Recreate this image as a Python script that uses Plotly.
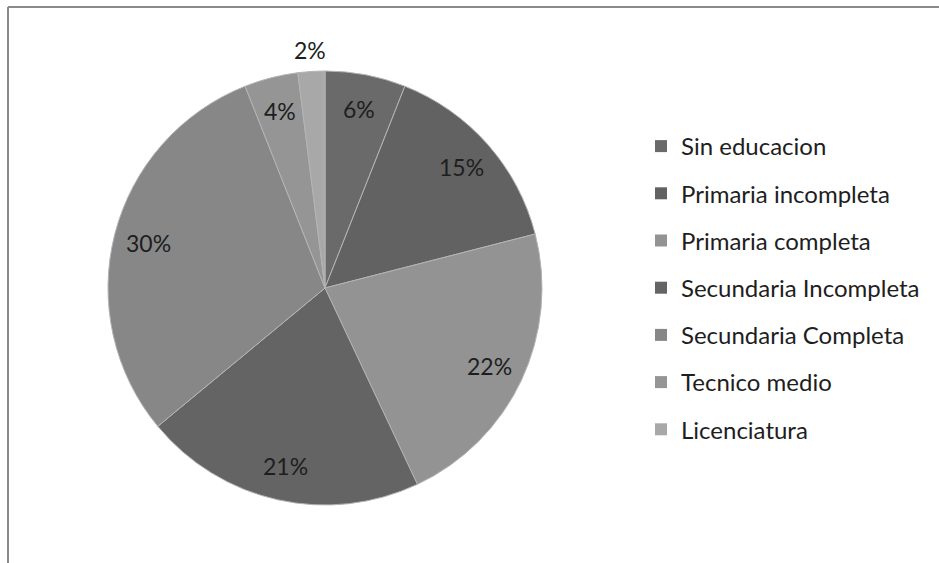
import math
import plotly.graph_objects as go

# Education level distribution
categories = ["Sin educacion", "Primaria incompleta", "Primaria completa",
              "Secundaria Incompleta", "Secundaria Completa", "Tecnico medio",
              "Licenciatura"]
values = [6, 15, 22, 21, 30, 4, 2]
colors = ["#6a6a6a", "#626262", "#939393", "#646464", "#878787", "#959595", "#a8a8a8"]

W, H = 939, 563
CX, CY, R = 325, 288, 217          # pie centre and radius in pixels
FONT = "Lato, 'Open Sans', sans-serif"

fig = go.Figure()

fig.add_trace(go.Pie(
    labels=categories,
    values=values,
    sort=False,
    direction="clockwise",
    rotation=0,
    marker=dict(colors=colors, line=dict(color="#b4b4b4", width=1)),
    textinfo="none",
    hoverinfo="label+percent",
    showlegend=False,
    domain=dict(x=[(CX - R) / W, (CX + R) / W],
                y=[1 - (CY + R) / H, 1 - (CY - R) / H]),
))

# Percentage labels placed at each slice's mid-angle
total = sum(values)
cum = 0
annotations = []
for v in values:
    mid = (cum + v / 2) / total * 2 * math.pi
    cum += v
    frac = 0.84 if v / total >= 0.03 else 1.1
    px = CX + frac * R * math.sin(mid)
    py = CY - frac * R * math.cos(mid)
    annotations.append(dict(
        x=px / W, y=1 - py / H, xref="paper", yref="paper",
        text=f"{round(v / total * 100)}%", showarrow=False,
        font=dict(family=FONT, size=23, color="#1e1e1e"),
        xanchor="center", yanchor="middle",
    ))

# Legend entries, one group each so they can be spaced apart
for i, (name, col) in enumerate(zip(categories, colors)):
    fig.add_trace(go.Scatter(
        x=[None], y=[None], mode="markers", name=name,
        marker=dict(symbol="square", size=12, color=col),
        legendgroup=f"g{i}", showlegend=True, hoverinfo="skip",
    ))

# Chart frame (top and left edges)
shapes = [
    dict(type="line", xref="paper", yref="paper",
         x0=8 / W, x1=1, y0=1 - 7 / H, y1=1 - 7 / H,
         line=dict(color="#8a8a8a", width=2)),
    dict(type="line", xref="paper", yref="paper",
         x0=8 / W, x1=8 / W, y0=0, y1=1 - 7 / H,
         line=dict(color="#8a8a8a", width=2)),
]

fig.update_layout(
    width=W, height=H,
    margin=dict(l=0, r=0, t=0, b=0),
    paper_bgcolor="white", plot_bgcolor="white",
    xaxis=dict(visible=False), yaxis=dict(visible=False),
    annotations=annotations,
    shapes=shapes,
    legend=dict(
        x=641 / W, y=1 - 124 / H, xanchor="left", yanchor="top",
        font=dict(family=FONT, size=24, color="#1e1e1e"),
        tracegroupgap=13, itemclick=False, itemdoubleclick=False,
        bgcolor="rgba(0,0,0,0)",
    ),
)

fig.write_html("out.html")
